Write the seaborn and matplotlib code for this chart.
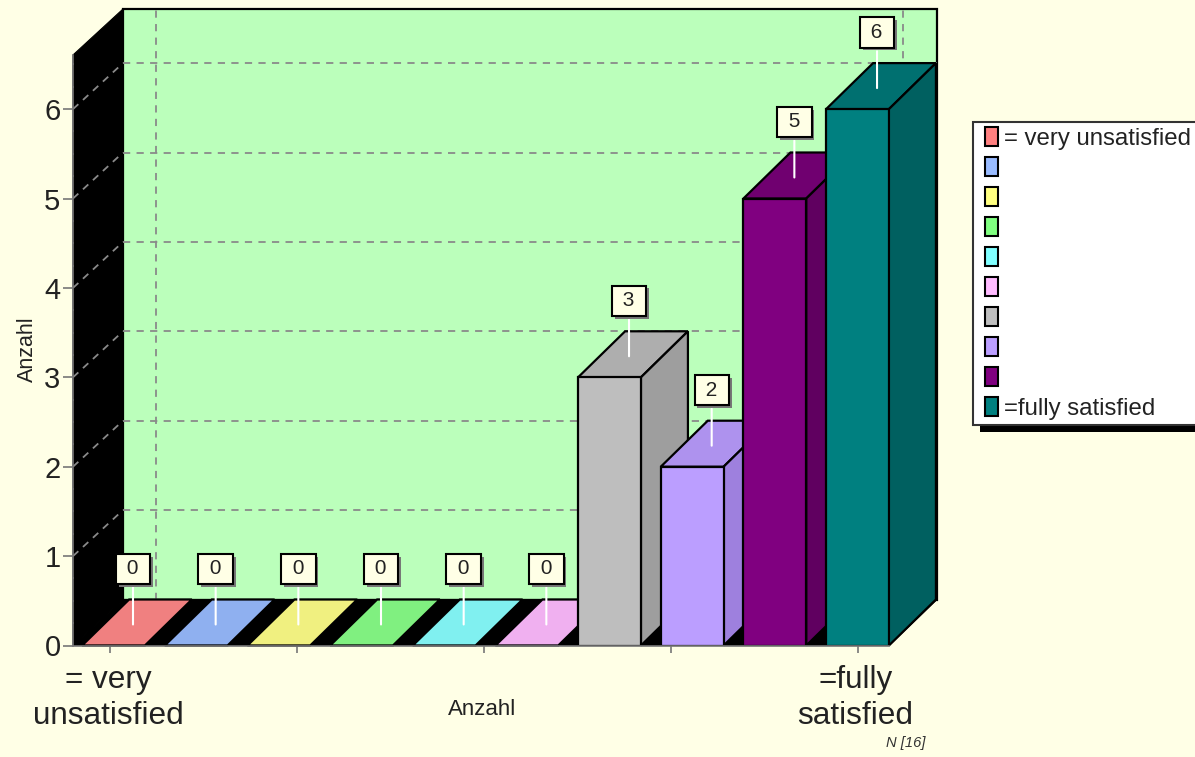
import matplotlib
matplotlib.use("Agg")
import matplotlib.pyplot as plt
import matplotlib.patheffects as pe
from matplotlib.legend_handler import HandlerPatch
from matplotlib.patches import Patch, Polygon
from matplotlib.transforms import ScaledTranslation
import numpy as np
import pandas as pd
import seaborn as sns

# data
steps = [1, 2, 3, 4, 5, 6, 7, 8, 9, 10]
counts = [0, 0, 0, 0, 0, 0, 3, 2, 5, 6]
y_ticks = [0, 1, 2, 3, 4, 5, 6]
x_tick_labels = ["= very\nunsatisfied", "", "", "", "=fully\nsatisfied"]
legend_labels = ["= very unsatisfied", " ", " ", " ", " ", " ", " ", " ", " ", "=fully satisfied"]
axis_label = "Anzahl"
n_note = "N [16]"

# colours
front_cols = ["#FF8080", "#99BBFF", "#FFFF80", "#80FF80", "#80FFFF", "#FFBBFF", "#BEBEBE", "#BB9EFF", "#800080", "#008080"]
top_cols = ["#F08080", "#8FB0F0", "#F0F080", "#80F080", "#80F0F0", "#F0B0F0", "#AEAEAE", "#AE92EE", "#700070", "#007070"]
side_cols = ["#D08080", "#8098D0", "#D0D080", "#80D080", "#80D0D0", "#D098D0", "#9E9E9E", "#9E80DE", "#600060", "#006060"]
bg = "#FFFFE6"
wall = "#BBFFBB"
grid_col = "#8A8A8A"
txt = "#222222"

W, H = 1195, 757
plt.rcParams["font.family"] = ["Liberation Sans", "DejaVu Sans"]
fig = plt.figure(figsize=(W / 100, H / 100), dpi=100, facecolor=bg)

# axes box in pixels
left, right, bottom, top = 73, 889, 645.5, 55
ax = fig.add_axes([left / W, 1 - bottom / H, (right - left) / W, (bottom - top) / H])
ax.set_facecolor("none")

df = pd.DataFrame({"step": steps, "count": counts})
sns.barplot(data=df, x="step", y="count", hue="step", palette=front_cols, legend=False, saturation=1,
            dodge=False, width=0.76, edgecolor="black", linewidth=1.6, ax=ax)

x_unit = 82.67
y_unit = 89.4
xl = (left - 113.5) / x_unit
xr = (right - 113.5) / x_unit
yt = (bottom - top) / y_unit
ax.set_xlim(xl, xr)
ax.set_ylim(0, yt)

# depth of the fake 3d, px to data
dx = 47 / x_unit
dy = 46 / y_unit
wall_dx = 50 / x_unit
back_l = xl + wall_dx
back_r = xr + 48 / x_unit


def poly(points, fc, ec="black", lw=1.6, z=1):
    ax.add_patch(Polygon(points, closed=True, facecolor=fc, edgecolor=ec, linewidth=lw,
                         zorder=z, clip_on=False, joinstyle="miter"))


# walls and floor
poly([(back_l, dy), (back_r, dy), (back_r, yt + dy), (back_l, yt + dy)], wall, z=0.5)
poly([(xl, 0), (xl, yt), (back_l, yt + dy), (back_l, dy)], "black", ec="black", lw=0.8, z=0.6)
poly([(xl, 0), (xr, 0), (back_r, dy), (back_l, dy)], "black", ec="black", lw=0.8, z=0.6)

# grid on the back wall and the left wall
gkw = dict(color=grid_col, lw=1.3, dashes=(4, 3.5), clip_on=False, zorder=0.8)
x_ticks = -0.04 + 2.26 * np.arange(5)
for v in y_ticks[1:]:
    ax.plot([back_l, back_r], [v + dy, v + dy], **gkw)
    ax.plot([xl, back_l], [v, v + dy], **gkw)
for i in [0, 4]:
    gx = x_ticks[i] + dx - 1.5 / x_unit
    ax.plot([gx, gx], [dy, yt + dy], **gkw)

# tops and sides from the bars seaborn drew
bars = [b for c in ax.containers for b in c]
for i, b in enumerate(bars):
    x0, x1, h = b.get_x(), b.get_x() + b.get_width(), b.get_height()
    z = 2 + i
    b.set_zorder(z + 0.5)
    poly([(x0, h), (x1, h), (x1 + dx, h + dy), (x0 + dx, h + dy)], top_cols[i], z=z)
    if h > 0:
        poly([(x1, 0), (x1, h), (x1 + dx, h + dy), (x1 + dx, dy)], side_cols[i], z=z)

# value flags
for i, v in enumerate(counts):
    ann = ax.annotate(f" {v} ", xy=(i + 19.5 / x_unit, v + 21 / y_unit), xytext=(0, 40),
                      textcoords="offset points", ha="center", va="center", fontsize=15, color=txt,
                      zorder=30, annotation_clip=False,
                      bbox=dict(boxstyle="square,pad=0.27", fc=bg, ec="black", lw=1.5),
                      arrowprops=dict(arrowstyle="-", color="white", lw=1.5, shrinkA=2, shrinkB=0))
    ann.get_bbox_patch().set_path_effects([pe.SimplePatchShadow(offset=(2, -2), shadow_rgbFace="#777777", alpha=1),
                                           pe.Normal()])

# axes
for s in ["top", "right"]:
    ax.spines[s].set_visible(False)
for s in ["left", "bottom"]:
    ax.spines[s].set_color("#777777")
    ax.spines[s].set_linewidth(1.2)
    ax.spines[s].set_zorder(25)
ax.set_yticks(y_ticks)
ax.set_yticks(np.arange(0, yt, 0.25), minor=True)
ax.tick_params(axis="y", which="major", labelsize=21, labelcolor=txt, length=7, width=1.2, color="#777777", pad=2)
ax.tick_params(axis="y", which="minor", length=2, width=1.2, color="#777777", direction="inout")
ax.set_xticks(x_ticks, x_tick_labels)
ax.tick_params(axis="x", labelsize=22.7, labelcolor=txt, length=5, width=1.2, color="#777777", pad=9)
shift = ScaledTranslation(-2 / 100, 0, fig.dpi_scale_trans)
for lab in ax.get_xticklabels():
    lab.set_linespacing(1.25)
    lab.set_transform(lab.get_transform() + shift)
ax.set_xlabel(axis_label, fontsize=16, color=txt)
ax.set_ylabel(axis_label, fontsize=15.5, color=txt)
ax.xaxis.set_label_coords(0.501, -0.1085)
ax.yaxis.set_label_coords(-0.0562, 0.502)
ax.xaxis.label.set_verticalalignment("center")
ax.yaxis.label.set_verticalalignment("center")

fig.text(906 / W, 1 - 743 / H, n_note, fontsize=10.6, style="italic", color="#333333", ha="center", va="center")

# legend, runs off the right edge like the original
handles = [Patch(facecolor=c, edgecolor="black", linewidth=1.5) for c in front_cols]
fs = 17.3
leg = fig.legend(handles, legend_labels, loc="upper left", bbox_to_anchor=(973 / W, 1 - 122 / H),
                 bbox_transform=fig.transFigure, fontsize=fs, frameon=True, fancybox=False, framealpha=1,
                 facecolor="white", edgecolor="#333333", borderpad=0.22, borderaxespad=0,
                 handlelength=0.8, handleheight=0.83, handletextpad=0.28, labelspacing=0.3, labelcolor=txt,
                 handler_map={Patch: HandlerPatch(xpad=0.3)})
leg.get_frame().set_linewidth(1.5)
leg.get_frame().set_path_effects([pe.SimplePatchShadow(offset=(5, -5), shadow_rgbFace="black", alpha=1), pe.Normal()])

fig.savefig("out.png", dpi=100, facecolor=bg)
